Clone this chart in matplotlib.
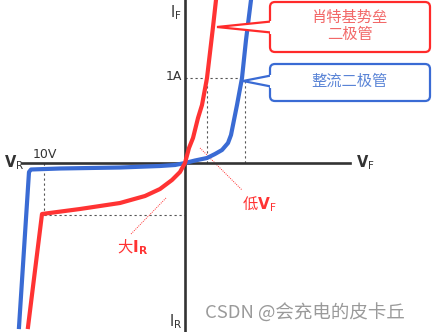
# Schottky vs. rectifier diode I-V sketch
import numpy as np
import matplotlib.pyplot as plt
from matplotlib.patches import FancyBboxPatch, Polygon

plt.rcParams['font.family'] = ['Noto Sans CJK SC', 'DejaVu Sans']
plt.rcParams['mathtext.fontset'] = 'dejavusans'

RED = '#ff3333'
BLUE = '#3a6bd4'
AXIS = '#333333'

# curve points, origin at the axes crossing (V right, I up)
blue_v = [-166, -156, -154, -125, -65, -25, -10, 0,
          10, 22, 30, 37, 43, 46, 49, 52, 57, 61, 66]
blue_i = [-164, -9, -6.5, -5.5, -4.5, -3, -2, 0,
          2.5, 5, 9, 13, 20, 28, 43, 58, 85, 123, 163]

red_v = [-157, -143, -105, -65, -40, -25, -13, -5, 0,
         4, 8, 13, 17, 22, 28, 31]
red_i = [-164, -51, -46, -40, -33, -26, -17, -9, 0,
         15, 25, 45, 58, 85, 136, 163]

# reference points
i_1a = 85           # 1A level
v_1a_red = 22       # red curve at 1A
v_1a_blue = 60      # blue curve at 1A
v_10v = -141        # 10V reverse
i_rev = -52         # red reverse current at 10V

fig = plt.figure(figsize=(4.32, 3.32), dpi=100)
ax = fig.add_axes([0, 0, 1, 1])
ax.set_xlim(-185, 247)
ax.set_ylim(-169, 163)
ax.axis('off')

# axes
ax.plot([0, 0], [-169, 163], color=AXIS, lw=1.9, zorder=3)
ax.plot([-163, 165], [0, 0], color=AXIS, lw=1.9, zorder=3)

# guide lines
dot = dict(color='#555555', lw=0.8, ls=(0, (2, 2.5)), zorder=1)
ax.plot([0, v_1a_blue], [i_1a, i_1a], **dot)
ax.plot([v_1a_red, v_1a_red], [0, i_1a], **dot)
ax.plot([v_1a_blue, v_1a_blue], [0, i_1a], **dot)
ax.plot([v_10v, 0], [i_rev, i_rev], **dot)
ax.plot([v_10v, v_10v], [0, i_rev], **dot)

# curves
ax.plot(blue_v, blue_i, color=BLUE, lw=3.0, solid_joinstyle='round', zorder=4)
ax.plot(red_v, red_i, color=RED, lw=3.0, solid_joinstyle='round', zorder=5)

# axis labels
ax.text(-171, 0, r'$\mathbf{V}_\mathrm{R}$', fontsize=10.5, ha='center', va='center', color=AXIS)
ax.text(180, 0, r'$\mathbf{V}_\mathrm{F}$', fontsize=10.5, ha='center', va='center', color=AXIS)
ax.text(-9, 150, r'$\mathrm{I}_\mathrm{F}$', fontsize=10.5, ha='center', va='center', color=AXIS)
ax.text(-9, -159, r'$\mathrm{I}_\mathrm{R}$', fontsize=10.5, ha='center', va='center', color=AXIS)
ax.text(-152, 8, '10V', fontsize=9, ha='left', va='center', color=AXIS, family='DejaVu Sans')
ax.text(-3, 87, '1A', fontsize=9, ha='right', va='center', color=AXIS, family='DejaVu Sans')

# leader lines and notes
lead = dict(color=RED, lw=0.7, ls=(0, (1, 1.2)), zorder=2)
ax.plot([15, 57], [15, -27], **lead)
ax.plot([-19, -54], [-35, -71], **lead)
ax.text(57, -41, r'低$\mathbf{V}_\mathrm{F}$', fontsize=11, ha='left', va='center', color=RED)
ax.text(-68, -84, r'大$\mathbf{I}_\mathbf{R}$', fontsize=11, ha='left', va='center', color=RED)


def callout(x0, y0, x1, y1, tip, color, text_color, text):
    box = FancyBboxPatch((x0, y0), x1 - x0, y1 - y0,
                         boxstyle='round,pad=0,rounding_size=5',
                         fc='white', ec=color, lw=1.6, zorder=6)
    ax.add_patch(box)
    ym = tip[1]
    ptr = Polygon([(x0 + 1, ym + 5.5), tip, (x0 + 1, ym - 5.5)], closed=False,
                  fc='white', ec=color, lw=1.6, zorder=7, joinstyle='miter')
    ax.add_patch(ptr)
    ax.plot([x0 + 1.2, x0 + 1.2], [ym - 4.6, ym + 4.6], color='white', lw=2.2, zorder=8)
    ax.text((x0 + x1) / 2, (y0 + y1) / 2 + 1, text, fontsize=11, ha='center', va='center',
            color=text_color, linespacing=1.05, zorder=9)


callout(85, 111, 245, 161, (32, 136), '#ff2a2a', '#f26868', '肖特基势垒\n二极管')
callout(85, 62, 245, 99, (58, 82), '#3a6bd4', '#5a84d6', '整流二极管')

# watermark
ax.text(20, -150, 'CSDN @会充电的皮卡丘', fontsize=13.3, ha='left', va='center',
        color='#9a9a9a', zorder=10)

fig.savefig('out.png', dpi=100)
